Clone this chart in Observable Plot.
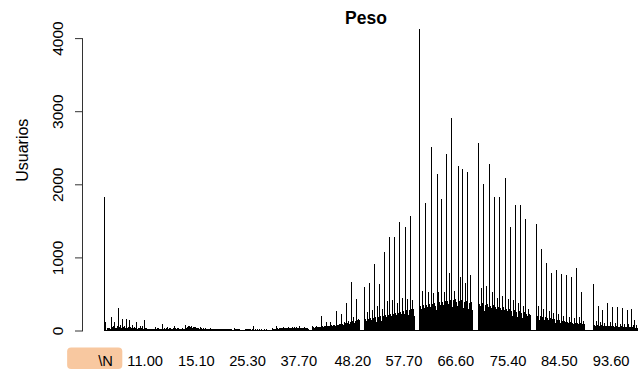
<!DOCTYPE html>
<html><head><meta charset="utf-8">
<script src="https://cdn.jsdelivr.net/npm/d3@7"></script>
<script src="https://cdn.jsdelivr.net/npm/@observablehq/plot@0.6"></script>
<style>
body{margin:0;background:#fff;}
#wrap{position:relative;width:638px;height:371px;overflow:hidden;font-family:"Liberation Sans",Arial,sans-serif;background:#fff;}
#wrap svg{display:block;}
#titulo{position:absolute;top:8px;left:266px;width:200px;text-align:center;font-weight:bold;font-size:17.5px;color:#000;}
</style></head><body><div id="wrap"><div id="titulo">Peso</div></div>
<script>
// Etiquetas visibles del eje X y marcas del eje Y
const etiquetas = ["\\N","11.00","15.10","25.30","37.70","48.20","57.70","66.60","75.40","84.50","93.60"];
const marcasY = [0, 1000, 2000, 3000, 4000];
const tituloY = "Usuarios";
// Usuarios sin dato de peso
const sinDato = 1820;
// Grupos de categorías (orden alfabético de la etiqueta de peso): [prefijo, usuarios por categoría]
const grupos100 = [
  ["1", [120, 12, 8]],
  ["10", [25, 30, 15, 40, 20, 35, 18, 22]],
  ["100", [189, 30, 45, 25, 60, 35]],
  ["101", [120, 25, 40, 30, 55, 20, 35]],
  ["102", [303, 35, 50, 30, 70, 40, 30]],
  ["103", [152, 30, 45, 25, 60, 35, 25]],
  ["104", [152, 25, 40, 50, 30, 20]],
  ["105", [143, 30, 45, 25, 35]],
  ["106", [75, 20, 35, 25, 45, 30, 20, 25]],
  ["107", [120, 25, 35, 20, 40, 25]],
  ["108", [60, 20, 30, 25]],
  ["109", [55, 20, 25, 15]]
];
const grupos11a15 = [
  ["11", [143, 40, 28, 20, 32, 15, 25, 20, 18, 24, 15, 20, 26, 18, 12, 20, 15, 22, 18, 15]],
  ["110", [48, 22, 18, 30, 16, 35, 20, 15, 25, 18, 20, 15]],
  ["111", [85, 20, 25, 18, 30, 22, 15, 20, 28, 18]],
  ["112", [45, 25, 18, 30, 20, 35, 22, 15, 25, 20]],
  ["113", [40, 25, 65, 20, 30, 18, 25, 20]],
  ["115", [35, 20, 28, 15, 25, 18, 22, 15]],
  ["118", [30, 18, 25, 15, 20, 18]],
  ["12", [75, 35, 40, 30, 45, 25]],
  ["120", [60, 40, 65, 35, 50, 30]],
  ["13", [65, 40, 50, 35, 45, 30]]
];
const grupos15a25 = [
  ["15", [45, 30, 40, 25, 35, 20, 30, 25, 20, 28]],
  ["150", [50, 25, 30, 20, 35, 25, 18, 22]],
  ["16", [30, 18, 22, 15, 25, 20, 15, 18, 12]],
  ["160", [28, 15, 20, 12, 22, 15, 18]],
  ["17", [25, 15, 18, 10, 20, 15, 12, 15]],
  ["170", [22, 12, 15, 10, 18, 12]],
  ["18", [25, 15, 20, 12, 18, 15, 10]],
  ["180", [20, 12, 15, 10, 14]],
  ["19", [22, 12, 15, 10, 16, 12]],
  ["2", [18, 10, 12, 8, 10]],
  ["20", [35, 15, 20, 12, 18, 25, 15, 12, 18, 14]],
  ["21", [15, 10, 12, 8]],
  ["22", [12, 8, 10]],
  ["23", [10, 8]],
  ["24", [10]]
];
const grupos25a37 = [
  ["25", [22, 10, 15, 12, 18, 20, 12, 10, 14, 12]],
  ["26", [18, 12, 15, 10, 60, 14, 12, 10]],
  ["27", [15, 10, 12, 8, 14, 10, 12, 8]],
  ["28", [16, 10, 12, 8, 14, 10, 8, 12, 10]],
  ["29", [15, 8, 12, 10, 14, 8, 10, 12]],
  ["3", [12, 8, 10, 6, 8, 10]],
  ["30", [30, 15, 20, 12, 25, 15, 18, 12]],
  ["31", [55, 30, 35, 25, 40, 30]],
  ["32", [40, 30, 35, 25, 38, 28]],
  ["33", [42, 30, 35, 28, 32]],
  ["34", [40, 28, 35, 25, 30]],
  ["35", [45, 30, 38, 28, 35, 30]],
  ["36", [52, 30, 35, 28]]
];
const grupos37a49 = [
  ["37", [50, 25, 30, 22, 52, 30, 25, 28, 22, 25]],
  ["38", [55, 30, 35, 28, 40, 30, 25, 28]],
  ["39", [50, 30, 38, 25, 40, 30, 28]],
  ["4", [15, 10, 12, 8, 12, 10, 8]],
  ["40", [60, 30, 42, 25, 40, 33, 45, 28]],
  ["41", [60, 35, 48, 30, 42, 45, 38, 50, 32]],
  ["42", [198, 40, 55, 36, 48, 55, 42, 58, 38]],
  ["43", [120, 45, 62, 42, 60, 50, 65, 44]],
  ["44", [120, 52, 70, 48, 62, 70, 55, 75, 50, 64]],
  ["45", [262, 60, 82, 56, 72, 90, 64, 86, 58]],
  ["46", [230, 68, 94, 64, 82, 110, 72, 98, 66]],
  ["47", [372, 78, 108, 72, 95, 130, 84, 112, 76]],
  ["48", [660, 90, 125, 84, 108, 190, 96, 130, 88]],
  ["49", [427, 100, 138, 95, 160, 105, 142, 98]],
  ["5", [4, 2, 3, 1, 2, 3, 2]]
];
const grupos50a59 = [
  ["50", [600, 112, 155, 105, 135, 250, 118, 160, 110]],
  ["51", [654, 120, 168, 112, 145, 280, 128, 172, 118, 150]],
  ["52", [908, 128, 180, 122, 155, 330, 138, 185, 126]],
  ["53", [634, 138, 192, 130, 166, 300, 146, 198, 134]],
  ["54", [1076, 150, 210, 142, 180, 400, 160, 215, 148]],
  ["55", [1280, 162, 228, 155, 196, 420, 172, 232, 160]],
  ["56", [1280, 172, 240, 165, 208, 380, 182, 245, 170]],
  ["57", [1488, 185, 258, 176, 222, 450, 195, 262, 180, 226]],
  ["58", [1416, 196, 275, 188, 238, 430, 208, 280, 192, 240]],
  ["59", [1573, 205, 288, 196, 420, 218, 292, 200]],
  ["6", [5, 3, 2, 4, 2, 3, 2, 3]]
];
const grupos60a69 = [
  ["60", [4130, 250, 330, 232, 298, 545, 270, 352, 245, 310, 262]],
  ["61", [1750, 262, 345, 240, 318, 530, 285, 362, 252, 322]],
  ["62", [2510, 272, 358, 255, 330, 510, 296, 375, 262, 338, 280]],
  ["63", [2145, 285, 372, 530, 305, 390, 276, 342]],
  ["64", [1795, 298, 388, 282, 352, 520, 318, 402, 290]],
  ["65", [2414, 310, 400, 292, 365, 782, 330, 415, 300, 372]],
  ["66", [2903, 322, 418, 305, 380, 545, 342, 430, 312, 388, 330]],
  ["67", [2250, 315, 408, 298, 372, 736, 335, 420, 305]],
  ["68", [2205, 305, 395, 290, 360, 655, 325, 408, 296]],
  ["69", [2166, 295, 382, 280, 348, 760, 312, 395, 286]],
  ["7", [6, 3, 4, 2, 3, 5, 2, 3, 4, 2]]
];
const grupos70a79 = [
  ["70", [2561, 278, 360, 262, 330, 580, 295, 372, 270, 338]],
  ["71", [2003, 265, 345, 250, 318, 610, 282, 358, 258, 325]],
  ["72", [2278, 255, 332, 240, 305, 520, 270, 342, 248]],
  ["73", [1824, 242, 318, 228, 292, 440, 258, 328, 236]],
  ["74", [1824, 232, 305, 218, 280, 470, 246, 315, 225, 285, 238]],
  ["75", [2082, 220, 290, 206, 265, 430, 234, 298, 212, 270]],
  ["76", [1420, 205, 272, 192, 248, 420, 218, 280, 198]],
  ["77", [1710, 194, 258, 182, 235, 380, 206, 265, 188]],
  ["78", [1710, 182, 242, 170, 220, 340, 194, 250, 176]],
  ["79", [1530, 170, 226, 158, 205, 300, 180, 232, 164, 208]],
  ["8", [5, 2, 3, 4, 2, 3, 5, 2, 3, 2]]
];
const grupos80a89 = [
  ["80", [1460, 145, 192, 330, 175, 150, 198, 140]],
  ["81", [1112, 135, 180, 126, 162, 300, 142, 185, 130, 165]],
  ["82", [930, 124, 166, 116, 150, 260, 130, 170, 120]],
  ["83", [786, 114, 152, 240, 138, 118, 156, 108]],
  ["84", [828, 104, 140, 98, 126, 220, 110, 144, 100]],
  ["85", [771, 96, 128, 90, 116, 200, 100, 132, 92, 118]],
  ["86", [755, 86, 116, 80, 104, 180, 90, 120, 84]],
  ["87", [736, 78, 105, 72, 95, 170, 82, 108, 75]],
  ["88", [850, 72, 96, 66, 88, 180, 75, 100, 68]],
  ["89", [531, 62, 84, 130, 70, 86, 58]],
  ["9", [4, 2, 3, 1, 2, 3, 1, 2, 4, 2, 1, 3, 2, 1, 2]]
];
const grupos90a99 = [
  ["90", [638, 56, 76, 52, 68, 130, 60, 78, 54]],
  ["91", [338, 50, 68, 110, 56, 70, 48, 60]],
  ["92", [280, 46, 62, 100, 50, 64, 44, 56]],
  ["93", [372, 46, 62, 42, 56, 110, 48, 64, 44, 58]],
  ["94", [326, 42, 56, 38, 50, 100, 44, 58, 40]],
  ["95", [320, 40, 54, 37, 48, 95, 42, 56, 38]],
  ["96", [313, 36, 50, 90, 40, 52, 34, 44]],
  ["97", [280, 35, 48, 85, 38, 50, 33, 42]],
  ["98", [288, 32, 44, 80, 34, 45]],
  ["99", [143, 28, 38, 70, 30]]
];

// Tabla para Plot
const filas = [{peso: "\\N", usuarios: sinDato}];
for (const tabla of [grupos100, grupos11a15, grupos15a25, grupos25a37, grupos37a49, grupos50a59, grupos60a69, grupos70a79, grupos80a89, grupos90a99]) {
  for (const [prefijo, cuentas] of tabla) {
    cuentas.forEach((u, i) => filas.push({peso: `${prefijo}.${i % 10}${Math.floor(i / 10)}`, usuarios: u}));
  }
}

// Cada barra se dibuja con 1 px de ancho (como en el dispositivo gráfico original)
const rango = [104.7, 637.3];
const paso = (rango[1] - rango[0]) / filas.length;
const extra = -(1 - paso) / 2;

const chart = Plot.plot({
  width: 638, height: 371,
  marginLeft: 82, marginRight: 0, marginTop: 38.1, marginBottom: 40.5,
  style: {fontFamily: '"Liberation Sans", Arial, sans-serif', fontSize: "14.7px", color: "#000", background: "#fff", overflow: "visible"},
  x: {type: "band", domain: filas.map(d => d.peso), range: rango, padding: 0, axis: null},
  y: {domain: [0, 4000], axis: null},
  marks: [
    Plot.barY(filas, {x: "peso", y: "usuarios", fill: "#000", insetLeft: extra, insetRight: extra, shapeRendering: "crispEdges"}),
    Plot.frame({anchor: "left", stroke: "#333"}),
    Plot.axisY({ticks: marcasY, tickSize: 7, tickPadding: 13, tickRotate: -90, tickFormat: d => String(d), fontSize: 15.5, stroke: "#333", label: null}),
    Plot.text([tituloY], {frameAnchor: "left", rotate: -90, dx: -60, dy: -3, fontSize: 16, fill: "#000"}),
    Plot.axisX({ticks: etiquetas, tickSize: 0, tickPadding: 25, fontSize: 14.7, label: null})
  ]
});
document.getElementById("wrap").appendChild(chart);

// Recuadro de resalte detrás de la etiqueta "\N"
const t = [...chart.querySelectorAll('g[aria-label="x-axis tick label"] text')].find(e => e.textContent === "\\N");
if (t) {
  const b = t.getBBox();
  const r = document.createElementNS("http://www.w3.org/2000/svg", "rect");
  r.setAttribute("x", b.x - 31);
  r.setAttribute("y", b.y - 6);
  r.setAttribute("width", b.width + 40.5);
  r.setAttribute("height", b.height + 5.5);
  r.setAttribute("rx", 4);
  r.setAttribute("fill", "#F8C8A0");
  if (t.getAttribute("transform")) r.setAttribute("transform", t.getAttribute("transform"));
  t.parentNode.insertBefore(r, t);
}
</script></body></html>
